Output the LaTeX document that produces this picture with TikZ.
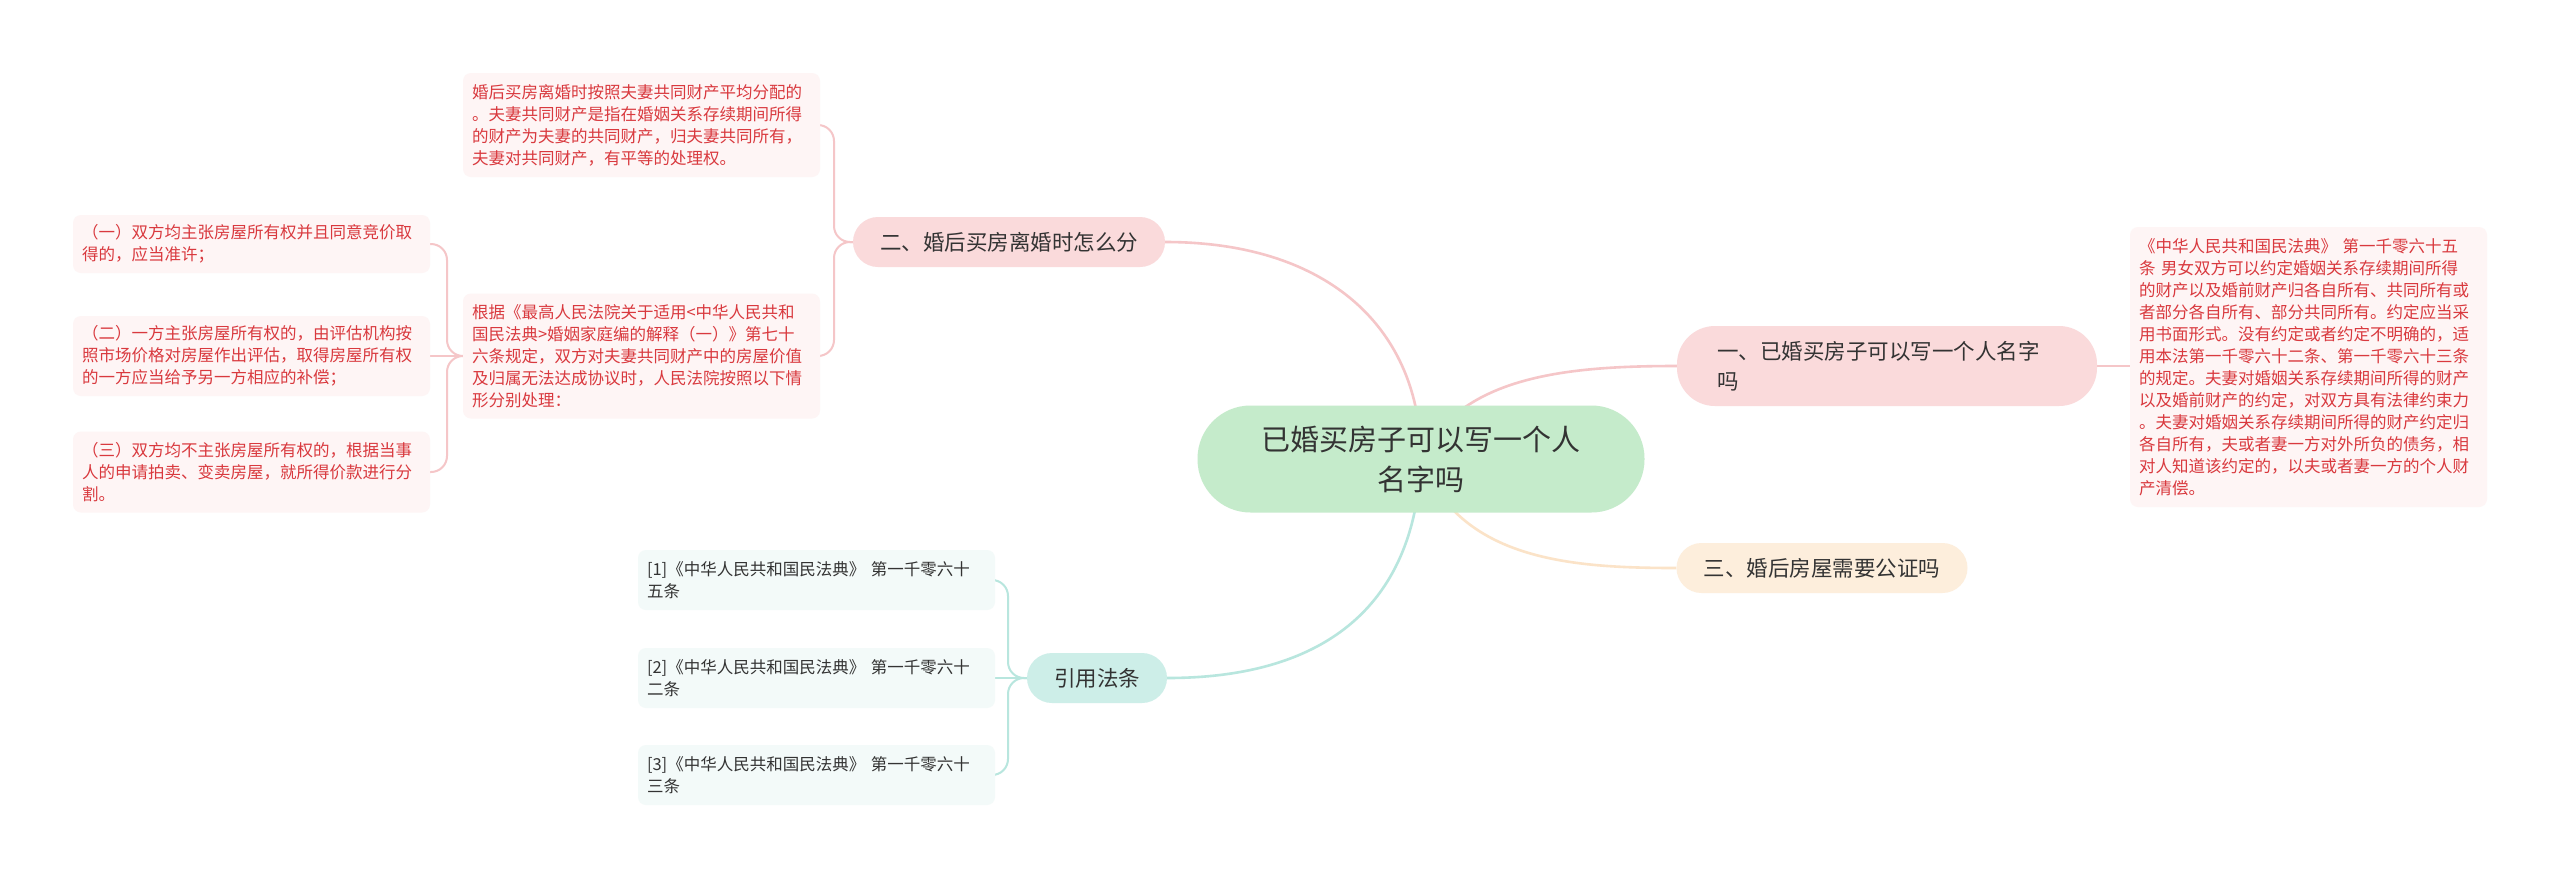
\documentclass[tikz,border=0pt]{standalone}
\usepackage{fontspec}
\setmainfont{Noto Sans CJK SC}
\usetikzlibrary{backgrounds}
\definecolor{cfill}{HTML}{C5EBCB}
\definecolor{pinkfill}{HTML}{FADADB}
\definecolor{peachfill}{HTML}{FDEEDC}
\definecolor{tealfill}{HTML}{CDEEE8}
\definecolor{leafbg}{HTML}{FEF5F5}
\definecolor{citebg}{HTML}{F3FAF9}
\definecolor{leaftext}{HTML}{D9393E}
\definecolor{pinkline}{HTML}{F5C6C8}
\definecolor{peachline}{HTML}{FBE3C8}
\definecolor{tealline}{HTML}{B8E6DE}
\definecolor{darktext}{HTML}{333333}
\tikzset{
  centralnode/.style={fill=cfill, rounded corners=53pt, minimum width=447pt, minimum height=107pt,
    align=center, text=darktext, font=\fontsize{29}{40}\selectfont, inner sep=0pt},
  branchnode/.style={rounded corners=25pt, minimum height=50pt, inner xsep=0pt, inner ysep=0pt,
    text=darktext, font=\fontsize{21.5}{30}\selectfont},
  leafnode/.style={fill=leafbg, rounded corners=8pt, text width=339pt, inner xsep=9pt, inner ysep=0pt,
    align=left, text=leaftext, font=\fontsize{16.5}{22}\selectfont},
  citenode/.style={fill=citebg, rounded corners=8pt, text width=339pt, inner xsep=9pt, inner ysep=0pt,
    align=left, text=darktext, font=\fontsize{16.5}{22}\selectfont, minimum height=60pt},
  mainlink/.style={line width=2.6pt},
  bracketlink/.style={line width=2pt, rounded corners=16pt}
}
\begin{document}
\begin{tikzpicture}[x=1pt, y=-1pt]
\useasboundingbox (0,0) rectangle (2560,879);

% central
\node[centralnode] (c) at (1421,459) {已婚买房子可以写一个人\\名字吗};

% branches
\node[branchnode, fill=pinkfill, minimum width=312pt] (b2) at (1009,242) {二、婚后买房离婚时怎么分};
\node[branchnode, fill=pinkfill, minimum height=80pt, rounded corners=38pt, text width=340pt, inner xsep=40pt, align=left] (b1) at (1887,366) {一、已婚买房子可以写一个人名字\\吗};
\node[branchnode, fill=peachfill, minimum width=291pt] (b3) at (1822,568) {三、婚后房屋需要公证吗};
\node[branchnode, fill=tealfill, minimum width=140pt] (bq) at (1097,678) {引用法条};

% leaves of branch 2
\node[leafnode, minimum height=104pt] (l1) at (641.5,125) {婚后买房离婚时按照夫妻共同财产平均分配的\\。夫妻共同财产是指在婚姻关系存续期间所得\\的财产为夫妻的共同财产，归夫妻共同所有，\\夫妻对共同财产，有平等的处理权。};
\node[leafnode, minimum height=125pt] (l2) at (641.5,356) {根据《最高人民法院关于适用<中华人民共和\\国民法典>婚姻家庭编的解释（一）》第七十\\六条规定，双方对夫妻共同财产中的房屋价值\\及归属无法达成协议时，人民法院按照以下情\\形分别处理：};

\node[leafnode, minimum height=58pt] (l21) at (251.5,244) {（一）双方均主张房屋所有权并且同意竞价取\\得的，应当准许；};
\node[leafnode, minimum height=80pt] (l22) at (251.5,356) {（二）一方主张房屋所有权的，由评估机构按\\照市场价格对房屋作出评估，取得房屋所有权\\的一方应当给予另一方相应的补偿；};
\node[leafnode, minimum height=81pt] (l23) at (251.5,472) {（三）双方均不主张房屋所有权的，根据当事\\人的申请拍卖、变卖房屋，就所得价款进行分\\割。};

% leaf of branch 1
\node[leafnode, minimum height=280pt] (r1) at (2308.5,367) {《中华人民共和国民法典》 第一千零六十五\\条 男女双方可以约定婚姻关系存续期间所得\\的财产以及婚前财产归各自所有、共同所有或\\者部分各自所有、部分共同所有。约定应当采\\用书面形式。没有约定或者约定不明确的，适\\用本法第一千零六十二条、第一千零六十三条\\的规定。夫妻对婚姻关系存续期间所得的财产\\以及婚前财产的约定，对双方具有法律约束力\\。夫妻对婚姻关系存续期间所得的财产约定归\\各自所有，夫或者妻一方对外所负的债务，相\\对人知道该约定的，以夫或者妻一方的个人财\\产清偿。};

% citations
\node[citenode] (q1) at (816.5,580) {[1]《中华人民共和国民法典》 第一千零六十\\五条};
\node[citenode] (q2) at (816.5,678) {[2]《中华人民共和国民法典》 第一千零六十\\二条};
\node[citenode] (q3) at (816.5,775) {[3]《中华人民共和国民法典》 第一千零六十\\三条};

% junction points
\coordinate (j2) at (834,242);
\coordinate (jl) at (447,356);
\coordinate (jq) at (1008,678);

\begin{scope}[on background layer]
  \fill[white] (0,0) rectangle (2560,879);
  \draw[mainlink, pinkline] (b2.east) .. controls (1330,242) and (1421,330) .. (c.center);
  \draw[mainlink, pinkline] (c.center) .. controls (1460,375) and (1570,366) .. (b1.west);
  \draw[mainlink, peachline] (c.center) .. controls (1460,560) and (1570,568) .. (b3.west);
  \draw[mainlink, tealline] (bq.east) .. controls (1320,678) and (1415,610) .. (c.center);

  \draw[bracketlink, pinkline] (b2.west) -- (j2) |- (l1.east);
  \draw[bracketlink, pinkline] (b2.west) -- (j2) |- (l2.east);
  \draw[bracketlink, pinkline] (l2.west) -- (jl) |- (l21.east);
  \draw[bracketlink, pinkline] (l2.west) -- (l22.east);
  \draw[bracketlink, pinkline] (l2.west) -- (jl) |- (l23.east);
  \draw[line width=2pt, pinkline] (b1.east) -- (r1.west |- b1.east);

  \draw[bracketlink, tealline] (bq.west) -- (jq) |- (q1.east);
  \draw[bracketlink, tealline] (bq.west) -- (q2.east);
  \draw[bracketlink, tealline] (bq.west) -- (jq) |- (q3.east);
\end{scope}
\end{tikzpicture}
\end{document}
